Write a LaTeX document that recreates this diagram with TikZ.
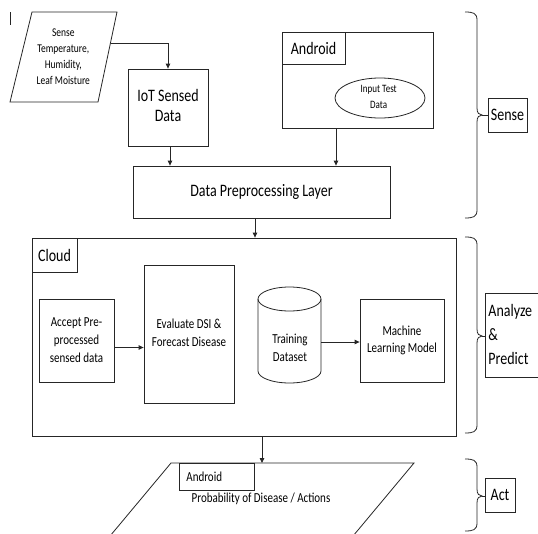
\documentclass[tikz,border=0pt]{standalone}
\usepackage{fontspec}
\setmainfont{Carlito}
\usetikzlibrary{arrows.meta,shapes.geometric,calc}
\newcommand\stt[2][c]{\scalebox{1}[1.25]{\begin{tabular}{@{}#1@{}}#2\end{tabular}}}
\newcommand\sts[1]{\scalebox{1}[1.25]{#1}}
% #1 top, #2 tip, #3 bottom, #4 name of tip coordinate
\newcommand\mybrace[4]{%
  \draw[lw] (465,#1) .. controls (473,#1) and (477,{#1+1}) .. (477,{#1+8})
    -- (477,{#2-7}) .. controls (477,{#2-2}) and (479,#2) .. (482,#2)
    .. controls (479,#2) and (477,{#2+2}) .. (477,{#2+7})
    -- (477,{#3-8}) .. controls (477,{#3-1}) and (473,#3) .. (465,#3);
  \coordinate (#4) at (482,#2);}
\tikzset{
  lw/.style={line width=0.8pt, draw=black!85},
  box/.style={draw=black!85, line width=0.8pt, rectangle, inner sep=0pt},
  arr/.style={-{Triangle[length=5pt,width=4.5pt]}, line width=0.8pt, draw=black!85},
  big/.style={font=\fontsize{14}{16}\selectfont},
  small/.style={font=\fontsize{11}{14.3}\selectfont},
}
\begin{document}
\begin{tikzpicture}[x=1pt,y=-1pt]
\useasboundingbox (0,0) rectangle (538,533);
\fill[white] (0,0) rectangle (538,533);
\clip (0,0) rectangle (538,533);

% stray mark
\draw[lw] (10,12) -- (10,25);

% sensor input (parallelogram)
\draw[lw] (32,12) -- (117,12) -- (98,102) -- (10,102) -- cycle;
\node[font=\fontsize{9.5}{13}\selectfont, inner sep=0pt] (sensor) at (63.3,57.2)
  {\stt{Sense\\Temperature,\\Humidity,\\Leaf Moisture}};
\coordinate (sensorout) at (111,43);

% IoT sensed data
\node[box, big, minimum width=80pt, minimum height=77pt] (iot) at (168,107.5) {\stt{IoT Sensed\\Data}};

% preprocessing
\node[box, big, minimum width=257pt, minimum height=52pt] (prep) at (261.5,192) {\sts{Data Preprocessing Layer}};

% android input
\node[box, minimum width=151pt, minimum height=96pt] (android) at (357.5,80) {};
\node[box, big, minimum width=63pt, minimum height=32pt, anchor=north west] (androidlbl) at (android.north west) {\sts{Android}};
\node[draw=black!85, line width=0.8pt, ellipse, minimum width=90pt, minimum height=40pt, inner sep=0pt] (input) at (380,98) {};
\begin{scope}
  \clip (330,80) rectangle (430,108);
  \node[font=\fontsize{9}{13.2}\selectfont, inner sep=0pt] (inputtxt) at (378.7,97) {\stt{Input Test\\Data}};
\end{scope}

% sense brace
\mybrace{12}{115}{218}{sensetip}
\node[box, big, minimum width=39pt, minimum height=34pt] (sense) at (507.5,115) {\sts{Sense}};
\draw[lw] (sensetip) -- (sensetip -| sense.west);

% arrows top
\draw[arr] (sensorout) -| (iot.north);
\draw[arr] ([xshift=2pt]iot.south) -- ([xshift=2pt]iot.south |- prep.north);
\draw[arr] ([xshift=-21.5pt]android.south) -- ([xshift=-21.5pt]android.south |- prep.north);

% cloud
\node[box, minimum width=424pt, minimum height=198pt] (cloud) at (244,337) {};
\node[box, big, minimum width=45pt, minimum height=34pt, anchor=north west] (cloudlbl) at (cloud.north west) {\sts{Cloud}};
\draw[arr] ([xshift=-6.5pt]prep.south) -- ([xshift=-6.5pt]prep.south |- cloud.north);

\node[box, font=\fontsize{11}{14.4}\selectfont, minimum width=75pt, minimum height=83pt] (accept) at (76.5,340.5) {\stt{Accept Pre-\\processed\\sensed data}};
\node[box, font=\fontsize{11}{14.2}\selectfont, minimum width=90pt, minimum height=138pt] (eval) at (189,334) {\stt{Evaluate DSI \&\\Forecast Disease}};
\draw[arr] ([yshift=-7pt]accept.east) -- ([yshift=-7pt]accept.east -| eval.west);

% training dataset cylinder
\node[minimum width=63pt, minimum height=96pt, inner sep=0pt] (train) at (289.5,335) {};
\draw[lw] (289.5,299) ellipse [x radius=31.5pt, y radius=12pt];
\draw[lw] (258,299) -- (258,371) arc[start angle=180, end angle=360, x radius=31.5pt, y radius=12pt] -- (321,299);
\node[font=\fontsize{11}{14.2}\selectfont, inner sep=0pt] (trainlbl) at (290,349.3) {\stt{Training\\Dataset}};

\node[box, font=\fontsize{11}{13.4}\selectfont, minimum width=84pt, minimum height=83pt] (ml) at (402,340.5) {\stt{Machine\\Learning Model}};
\draw[arr] ([yshift=-7pt]train.east) -- ([yshift=-7pt]train.east -| ml.west);

% analyze brace
\mybrace{237}{336}{433}{antip}
\node[box, font=\fontsize{14}{19.4}\selectfont, minimum width=60pt, minimum height=83.4pt, inner xsep=3pt, anchor=north west] (analyze) at (485,293.3)
  {\makebox[54pt][l]{\stt[l]{Analyze\\\&\\Predict}}};
\draw[lw] (antip) -- (antip -| analyze.west);

% output parallelogram
\coordinate (otl) at (171,463);
\coordinate (otr) at (414,463);
\draw[lw] (otl) -- (otr) -- ($(otr)+(-81,97)$) -- ($(otl)+(-81,97)$) -- cycle;
\draw[arr] ([xshift=18pt]cloud.south) -- ([xshift=18pt]cloud.south |- otl);
\node[box, font=\fontsize{11}{13}\selectfont, minimum width=75pt, minimum height=27pt, inner xsep=7pt, anchor=north west] (outandroid) at (otl -| 179,0)
  {\makebox[61pt][l]{\sts{Android}}};
\node[font=\fontsize{11}{13}\selectfont, inner sep=0pt, anchor=base] (prob) at (261,502.7) {\sts{Probability of Disease / Actions}};

% act brace
\mybrace{459}{496}{531}{acttip}
\node[box, big, minimum width=30pt, minimum height=34pt] (act) at (500,495) {\sts{Act}};
\draw[lw] (acttip) -- (acttip -| act.west);
\end{tikzpicture}
\end{document}
